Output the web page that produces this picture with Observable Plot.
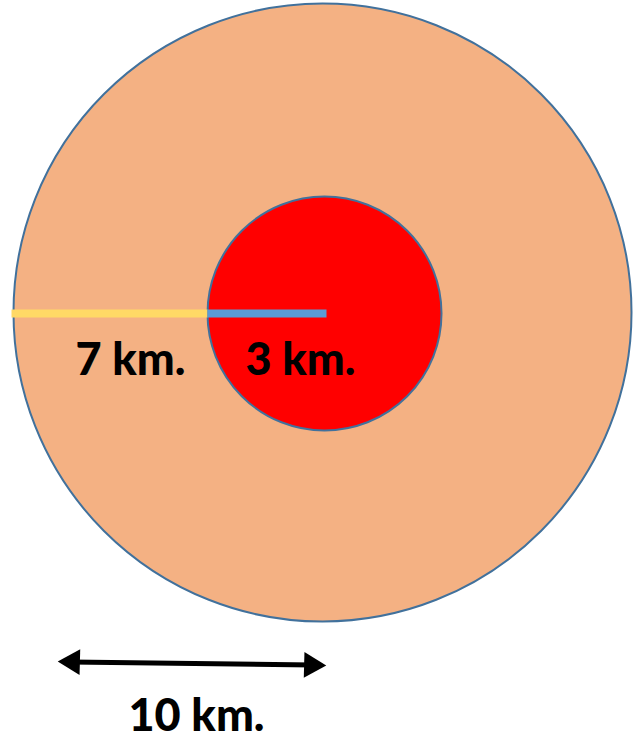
<!DOCTYPE html>
<html>
<head>
<meta charset="utf-8">
<script src="https://cdn.jsdelivr.net/npm/d3@7"></script>
<script src="https://cdn.jsdelivr.net/npm/@observablehq/plot@0.6"></script>
<style>
  html, body { margin: 0; padding: 0; background: #fff; }
</style>
</head>
<body>
<div id="chart"></div>
<script>
// Diagram in abstract layout units
const rings = [
  {name: "outer", cx: 322, cy: 312, r: 309, fill: "#F4B183"},
  {name: "inner", cx: 324, cy: 313, r: 117, fill: "#FF0000"}
];
const radii = [
  {label: "7 km.", x1: 11, x2: 207, y: 313, color: "#FFD966"},
  {label: "3 km.", x1: 207, x2: 326, y: 313, color: "#5B9BD5"}
];
const labels = [
  {text: "7 km.", x: 130, y: 360},
  {text: "3 km.", x: 300, y: 360},
  {text: "10 km.", x: 196, y: 716}
];
const scaleBar = [{x1: 70, y1: 661.4, x2: 313, y2: 664.6}];
const arrowHeads = [
  {x: 72, y: 661.4, rotate: -88.5},
  {x: 311, y: 664.6, rotate: 91.5}
];

const plot = Plot.plot({
  width: 633,
  height: 740,
  margin: 0,
  x: {domain: [0, 633], range: [0, 633], axis: null},
  y: {domain: [0, 740], range: [0, 740], axis: null},
  r: {type: "identity"},
  style: {background: "#fff"},
  marks: [
    Plot.dot(rings, {x: "cx", y: "cy", r: "r", fill: "fill", stroke: "#41719C", strokeWidth: 2}),
    Plot.link(radii, {x1: "x1", x2: "x2", y1: "y", y2: "y", stroke: "color", strokeWidth: 8, strokeLinecap: "butt"}),
    Plot.text(labels, {x: "x", y: "y", text: "text", fontSize: 45, fontWeight: 900, fontFamily: "Lato", fill: "#000"}),
    Plot.link(scaleBar, {x1: "x1", y1: "y1", x2: "x2", y2: "y2", stroke: "#000", strokeWidth: 5}),
    Plot.dot(arrowHeads, {x: "x", y: "y", symbol: "triangle", r: 9.5, rotate: "rotate", fill: "#000", stroke: "none"})
  ]
});
document.getElementById("chart").appendChild(plot);
</script>
</body>
</html>
